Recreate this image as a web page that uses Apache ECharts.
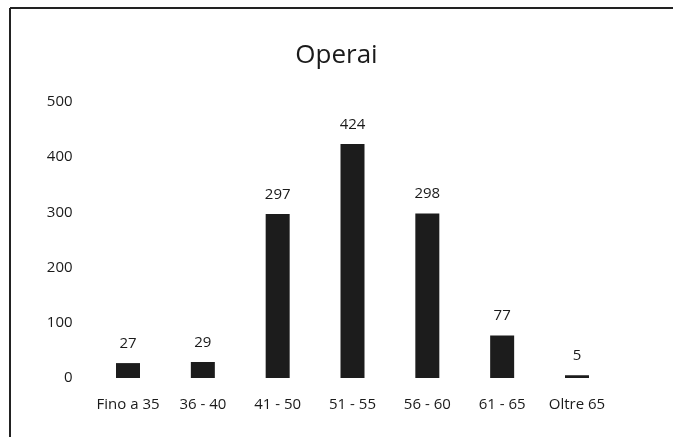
<!DOCTYPE html>
<html><head><meta charset="utf-8">
<script src="https://cdn.jsdelivr.net/npm/echarts@6/dist/echarts.min.js"></script>
<style>html,body{margin:0;padding:0;background:#fff}#c{width:673px;height:437px}</style>
</head><body><div id="c"></div>
<script>
const categories = ["Fino a 35", "36 - 40", "41 - 50", "51 - 55", "56 - 60", "61 - 65", "Oltre 65"];
const values = [27, 29, 297, 424, 298, 77, 5];
const yTicks = { min: 0, max: 500, interval: 100 };
const title = "Operai";

const chart = echarts.init(document.getElementById('c'), null, { renderer: 'canvas' });
const font = "'Open Sans', 'Noto Sans', sans-serif";
chart.setOption({
  animation: false,
  backgroundColor: '#fff',
  title: { text: title, left: 'center', top: 38, textStyle: { fontFamily: font, fontSize: 26, fontWeight: 'normal', color: '#1a1a1a' } },
  grid: { left: 90.6, right: 58.6, top: 102, bottom: 59 },
  xAxis: {
    type: 'category', data: categories,
    axisLine: { show: false }, axisTick: { show: false },
    axisLabel: { color: '#1a1a1a', fontFamily: font, fontSize: 15, margin: 19, interval: 0 }
  },
  yAxis: {
    type: 'value', min: yTicks.min, max: yTicks.max, interval: yTicks.interval,
    splitLine: { show: false }, axisLine: { show: false }, axisTick: { show: false },
    axisLabel: { color: '#1a1a1a', fontFamily: font, fontSize: 15, margin: 18 }
  },
  series: [{
    type: 'bar', data: values, barWidth: 24,
    itemStyle: { color: '#1c1c1c' },
    label: { show: true, position: 'top', distance: 12, color: '#1a1a1a', fontFamily: font, fontSize: 15 }
  }],
  graphic: [
    { type: 'line', shape: { x1: 10, y1: 8, x2: 673, y2: 8 }, style: { stroke: '#222', lineWidth: 2 } },
    { type: 'line', shape: { x1: 10, y1: 8, x2: 10, y2: 437 }, style: { stroke: '#222', lineWidth: 2 } }
  ]
});
</script></body></html>
